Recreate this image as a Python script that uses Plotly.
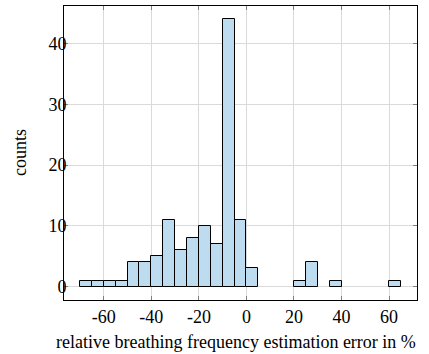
import plotly.graph_objects as go

# Histogram data: left edges of 5%-wide bins and their counts
bin_left = [-70, -65, -60, -55, -50, -45, -40, -35, -30, -25, -20, -15, -10, -5, 0, 20, 25, 35, 60]
counts = [1, 1, 1, 1, 4, 4, 5, 11, 6, 8, 10, 7, 44, 11, 3, 1, 4, 1, 1]
bin_width = 5
x_ticks = [-60, -40, -20, 0, 20, 40, 60]
x_tick_text = ["-60", "-40", "-20", "0", "20", "40", "60"]
y_ticks = [0, 10, 20, 30, 40]
x_title = "relative breathing frequency estimation error in %"
y_title = "counts"

centers = [b + bin_width / 2 for b in bin_left]

FONT = "Liberation Serif"
FS = 18

fig = go.Figure(go.Bar(
    x=centers, y=counts, width=[bin_width] * len(centers),
    marker=dict(color="#bddcef", line=dict(color="black", width=1)),
))

fig.update_layout(
    width=429, height=354,
    margin=dict(l=64, r=12, t=6, b=54),
    paper_bgcolor="white", plot_bgcolor="white",
    font=dict(family=FONT, size=FS, color="black"),
    showlegend=False,
    bargap=0,
)
fig.update_xaxes(
    automargin=False,
    range=[-76.75, 71.75],
    tickmode="array", tickvals=x_ticks, ticktext=x_tick_text,
    tickfont=dict(family=FONT, size=FS),
    ticks="inside", ticklen=4, tickcolor="#808080",
    showgrid=True, gridcolor="#dadada", gridwidth=1,
    showline=True, linecolor="black", linewidth=1, mirror="ticks",
    zeroline=False,
)
fig.update_yaxes(
    automargin=False,
    range=[-2.2, 46.2],
    tickmode="array", tickvals=y_ticks,
    tickfont=dict(family=FONT, size=FS),
    ticklabelstandoff=-7,
    ticks="inside", ticklen=4, tickcolor="#808080",
    showgrid=True, gridcolor="#dadada", gridwidth=1,
    showline=True, linecolor="black", linewidth=1, mirror="ticks",
    zeroline=False,
)
fig.add_annotation(
    text=x_title, xref="paper", yref="paper", x=0.5, y=0,
    xanchor="center", yanchor="middle", xshift=-5, yshift=-42,
    showarrow=False, font=dict(family=FONT, size=FS, color="black"),
)
fig.add_annotation(
    text=y_title, xref="paper", yref="paper", x=0, y=0.5,
    xanchor="center", yanchor="middle", xshift=-44, textangle=-90,
    showarrow=False, font=dict(family=FONT, size=FS, color="black"),
)

fig.write_html("out.html")
